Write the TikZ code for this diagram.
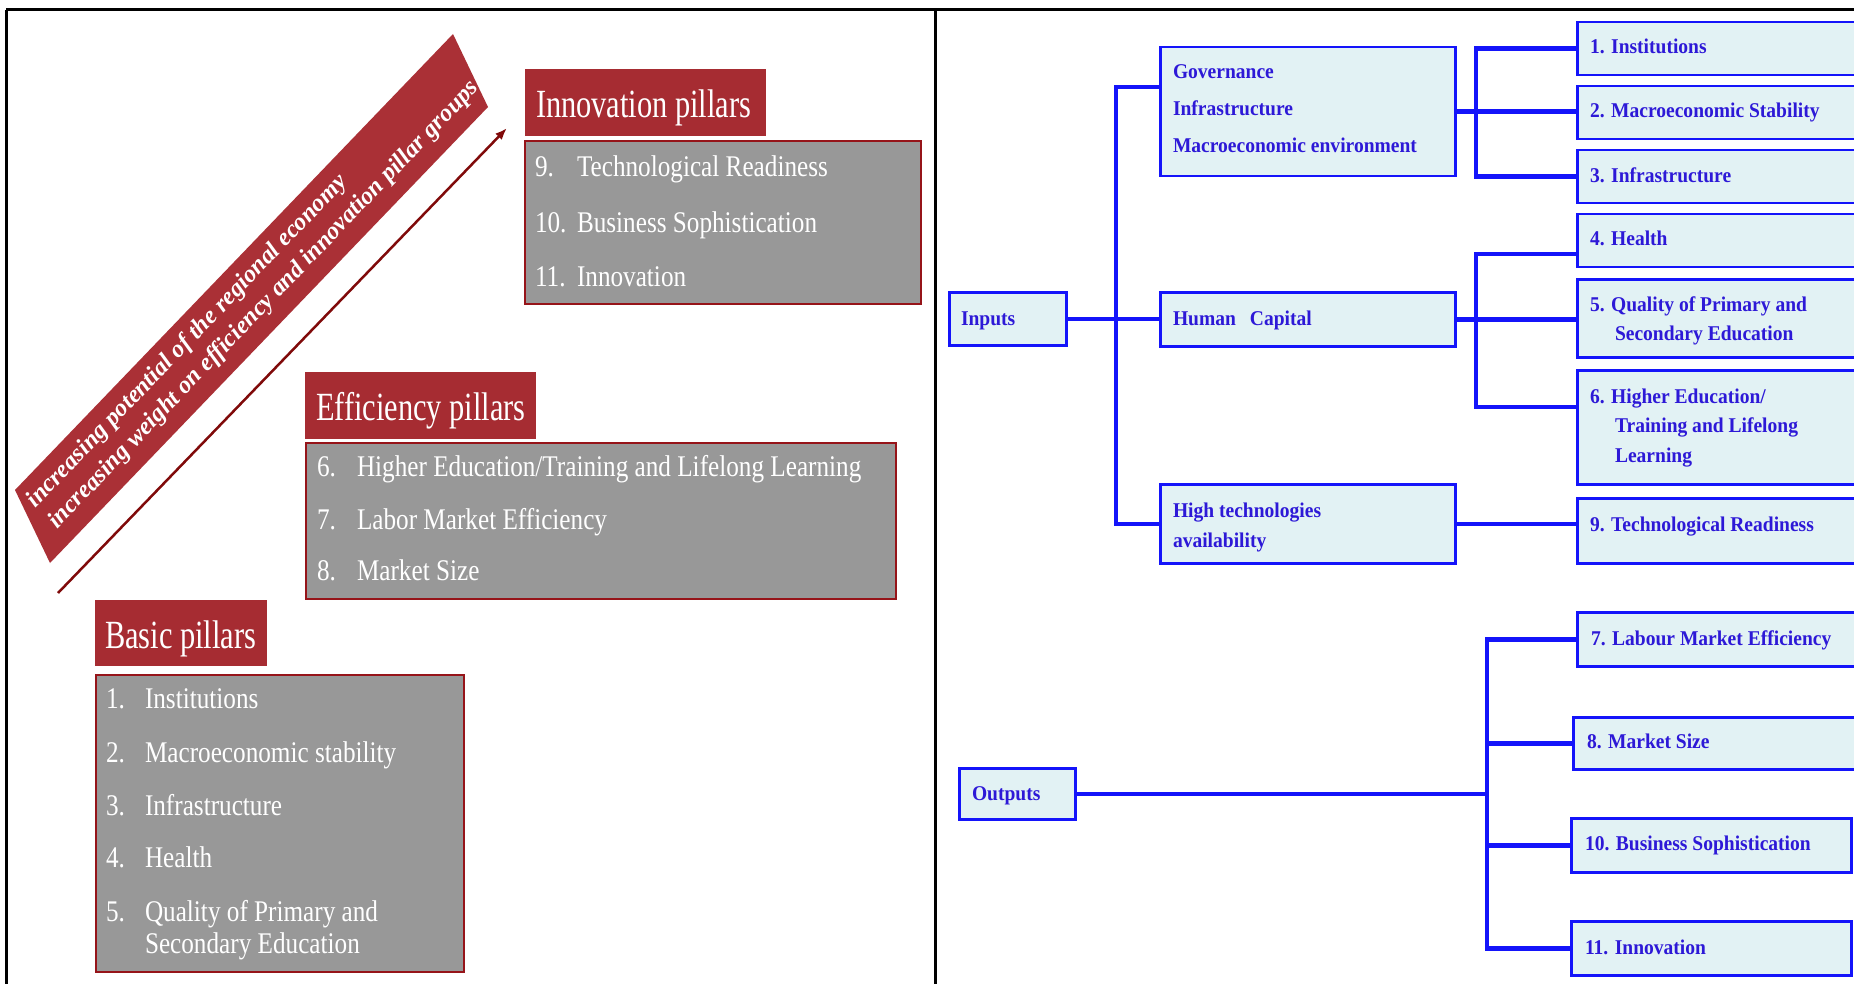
\documentclass[tikz,border=0pt]{standalone}
\usepackage{fontspec}
\usetikzlibrary{arrows.meta}
\newfontfamily\gfont{Liberation Serif}[FakeStretch=0.84]
\newfontfamily\hfont{Liberation Serif}[FakeStretch=0.76]
\newfontfamily\rfont{Liberation Serif}[FakeStretch=0.93]
\newfontfamily\banfont{Liberation Serif}
\definecolor{hdrred}{RGB}{166,44,50}
\definecolor{bannerred}{RGB}{170,48,54}
\definecolor{boxgray}{RGB}{152,152,152}
\definecolor{boxred}{RGB}{150,20,25}
\definecolor{arrowred}{RGB}{128,10,10}
\definecolor{cyanfill}{RGB}{226,242,244}
\definecolor{lineblue}{RGB}{20,20,250}
\definecolor{txtblue}{RGB}{45,25,215}
\begin{document}
\begin{tikzpicture}[x=1pt,y=-1pt,
  lbl/.style={anchor=base west, inner sep=0pt, outer sep=0pt},
  gitem/.style={lbl, text=white, font=\gfont\fontsize{30}{36}\selectfont},
  ghead/.style={lbl, text=white, font=\hfont\fontsize{40}{48}\selectfont},
  bitem/.style={lbl, text=txtblue, font=\rfont\bfseries\fontsize{21}{25}\selectfont},
  gbox/.style={draw=boxred, line width=2pt, fill=boxgray, anchor=north west, inner sep=0pt},
  hbox/.style={fill=hdrred, anchor=north west, inner sep=0pt},
  cbox/.style={draw=lineblue, line width=2.5pt, fill=cyanfill, anchor=north west, inner sep=0pt},
  conn/.style={draw=lineblue, line width=4.5pt, line join=miter},
  frame/.style={draw=black, line width=3pt},
  bantext/.style={text=white, align=left, inner sep=0pt,
    font=\banfont\bfseries\itshape\fontsize{24.5}{30}\selectfont}
]
\useasboundingbox (0,0) rectangle (1854,984);
\clip (0,0) rectangle (1854,984);
\fill[white] (0,0) rectangle (1854,984);

% frame
\draw[frame] (6,10) -- (1854,10);
\draw[frame] (6,10) -- (6,984);
\draw[frame] (935,10) -- (935,984);

% ===== LEFT PANEL =====
% banner
\coordinate (bA) at (15,490);
\coordinate (bB) at (453,34);
\coordinate (bC) at (488,107);
\coordinate (bD) at (50,563);
\fill[bannerred] (bA) -- (bB) -- (bC) -- (bD) -- cycle;
\node[bantext, rotate=46.2, anchor=west] (bant) at (42,515)
  {increasing potential of the regional economy\\increasing weight on efficiency and innovation pillar groups};
% arrow
\coordinate (atail) at (58,593);
\coordinate (ahead) at (507,128);
\draw[arrowred, line width=2.5pt, -{Latex[length=12pt,width=9pt]}] (atail) -- (ahead);

% Innovation pillars
\node[hbox, minimum width=241pt, minimum height=67pt] (innh) at (525,69) {};
\node[ghead] (innht) at (536,118) {Innovation pillars};
\node[gbox, minimum width=396pt, minimum height=163pt] (innb) at (524,140) {};
\node[gitem] (i9n) at (535,177) {9.};
\node[gitem] (i9t) at (577,177) {Technological Readiness};
\node[gitem] (i10n) at (535,233) {10.};
\node[gitem] (i10t) at (577,233) {Business Sophistication};
\node[gitem] (i11n) at (535,287) {11.};
\node[gitem] (i11t) at (577,287) {Innovation};

% Efficiency pillars
\node[hbox, minimum width=231pt, minimum height=67pt] (effh) at (305,372) {};
\node[ghead] (effht) at (316,420) {Efficiency pillars};
\node[gbox, minimum width=590pt, minimum height=156pt] (effb) at (305,442) {};
\node[gitem] (e6n) at (317,476) {6.};
\node[gitem] (e6t) at (357,476) {Higher Education/Training and Lifelong Learning};
\node[gitem] (e7n) at (317,529) {7.};
\node[gitem] (e7t) at (357,529) {Labor Market Efficiency};
\node[gitem] (e8n) at (317,580) {8.};
\node[gitem] (e8t) at (357,580) {Market Size};

% Basic pillars
\node[hbox, minimum width=172pt, minimum height=66pt] (bash) at (95,600) {};
\node[ghead] (basht) at (105,648) {Basic pillars};
\node[gbox, minimum width=368pt, minimum height=297pt] (basb) at (95,674) {};
\node[gitem] (b1n) at (106,708) {1.};
\node[gitem] (b1t) at (145,708) {Institutions};
\node[gitem] (b2n) at (106,762) {2.};
\node[gitem] (b2t) at (145,762) {Macroeconomic stability};
\node[gitem] (b3n) at (106,815) {3.};
\node[gitem] (b3t) at (145,815) {Infrastructure};
\node[gitem] (b4n) at (106,867) {4.};
\node[gitem] (b4t) at (145,867) {Health};
\node[gitem] (b5n) at (106,921) {5.};
\node[gitem] (b5t) at (145,921) {Quality of Primary and};
\node[gitem] (b5u) at (145,953) {Secondary Education};

% ===== RIGHT PANEL =====
\node[cbox, minimum width=117pt, minimum height=53pt] (inputs) at (948,291) {};
\node[bitem] (inputst) at (961,325) {Inputs};
\node[cbox, minimum width=295pt, minimum height=129pt] (gov) at (1159,46) {};
\node[bitem] (gov1) at (1173,79) {Governance};
\node[bitem] (gov2) at (1173,116) {Infrastructure};
\node[bitem] (gov3) at (1173,153) {Macroeconomic environment};
\node[cbox, minimum width=295pt, minimum height=54pt] (hc) at (1159,291) {};
\node[bitem] (hct) at (1173,325) {Human\hspace{14pt}Capital};
\node[cbox, minimum width=295pt, minimum height=79pt] (ht) at (1159,483) {};
\node[bitem] (ht1) at (1173,517) {High technologies};
\node[bitem] (ht2) at (1173,547) {availability};

\node[cbox, minimum width=300pt, minimum height=53pt] (inst) at (1576,21) {};
\node[bitem] (instt) at (1590,54) {1. Institutions};
\node[cbox, minimum width=300pt, minimum height=53pt] (macro) at (1576,85) {};
\node[bitem] (macrot) at (1590,118) {2. Macroeconomic Stability};
\node[cbox, minimum width=300pt, minimum height=53pt] (infra) at (1576,149) {};
\node[bitem] (infrat) at (1590,183) {3. Infrastructure};
\node[cbox, minimum width=300pt, minimum height=53pt] (health) at (1576,213) {};
\node[bitem] (healtht) at (1590,246) {4. Health};
\node[cbox, minimum width=300pt, minimum height=78pt] (qual) at (1576,278) {};
\node[bitem] (qual1) at (1590,311) {5. Quality of Primary and};
\node[bitem] (qual2) at (1615,340) {Secondary Education};
\node[cbox, minimum width=300pt, minimum height=114pt] (higher) at (1576,369) {};
\node[bitem] (high1) at (1590,403) {6. Higher Education/};
\node[bitem] (high2) at (1615,432) {Training and Lifelong};
\node[bitem] (high3) at (1615,462) {Learning};
\node[cbox, minimum width=300pt, minimum height=65pt] (tech) at (1576,497) {};
\node[bitem] (techt) at (1590,531) {9. Technological Readiness};

\node[cbox, minimum width=116pt, minimum height=51pt] (outputs) at (958,767) {};
\node[bitem] (outputst) at (972,800) {Outputs};
\node[cbox, minimum width=300pt, minimum height=54pt] (labour) at (1576,611) {};
\node[bitem] (labourt) at (1591,645) {7. Labour Market Efficiency};
\node[cbox, minimum width=300pt, minimum height=52pt] (market) at (1572,716) {};
\node[bitem] (markett) at (1587,748) {8. Market Size};
\node[cbox, minimum width=280pt, minimum height=54pt] (business) at (1570,817) {};
\node[bitem] (businesst) at (1585,850) {10. Business Sophistication};
\node[cbox, minimum width=280pt, minimum height=54pt] (innov) at (1570,920) {};
\node[bitem] (innovt) at (1585,954) {11. Innovation};

% connectors
\coordinate (tr1) at (1116,87);
\coordinate (tr2) at (1116,524);
\draw[conn] (inputs.east) -- (inputs.east -| hc.west);
\draw[conn] (gov.west |- tr1) -- (tr1) -- (tr2) -- (ht.west |- tr2);

\coordinate (bx1) at (1476,0);
\draw[conn] (gov.east) -- (gov.east -| macro.west);
\draw[conn] (inst.west) -- (inst.west -| bx1) -- (infra.west -| bx1) -- (infra.west);

\coordinate (hb1) at (1476,254);
\coordinate (hb2) at (1476,407);
\draw[conn] (hc.east) -- (hc.east -| qual.west);
\draw[conn] (health.west |- hb1) -- (hb1) -- (hb2) -- (higher.west |- hb2);

\draw[conn] (ht.east) -- (ht.east -| tech.west);

\coordinate (ob) at (1487,0);
\draw[conn] (outputs.east) -- (outputs.east -| ob);
\draw[conn] (labour.west) -- (labour.west -| ob) -- (innov.west -| ob) -- (innov.west);
\draw[conn] (market.west) -- (market.west -| ob);
\draw[conn] (business.west) -- (business.west -| ob);
\end{tikzpicture}
\end{document}
